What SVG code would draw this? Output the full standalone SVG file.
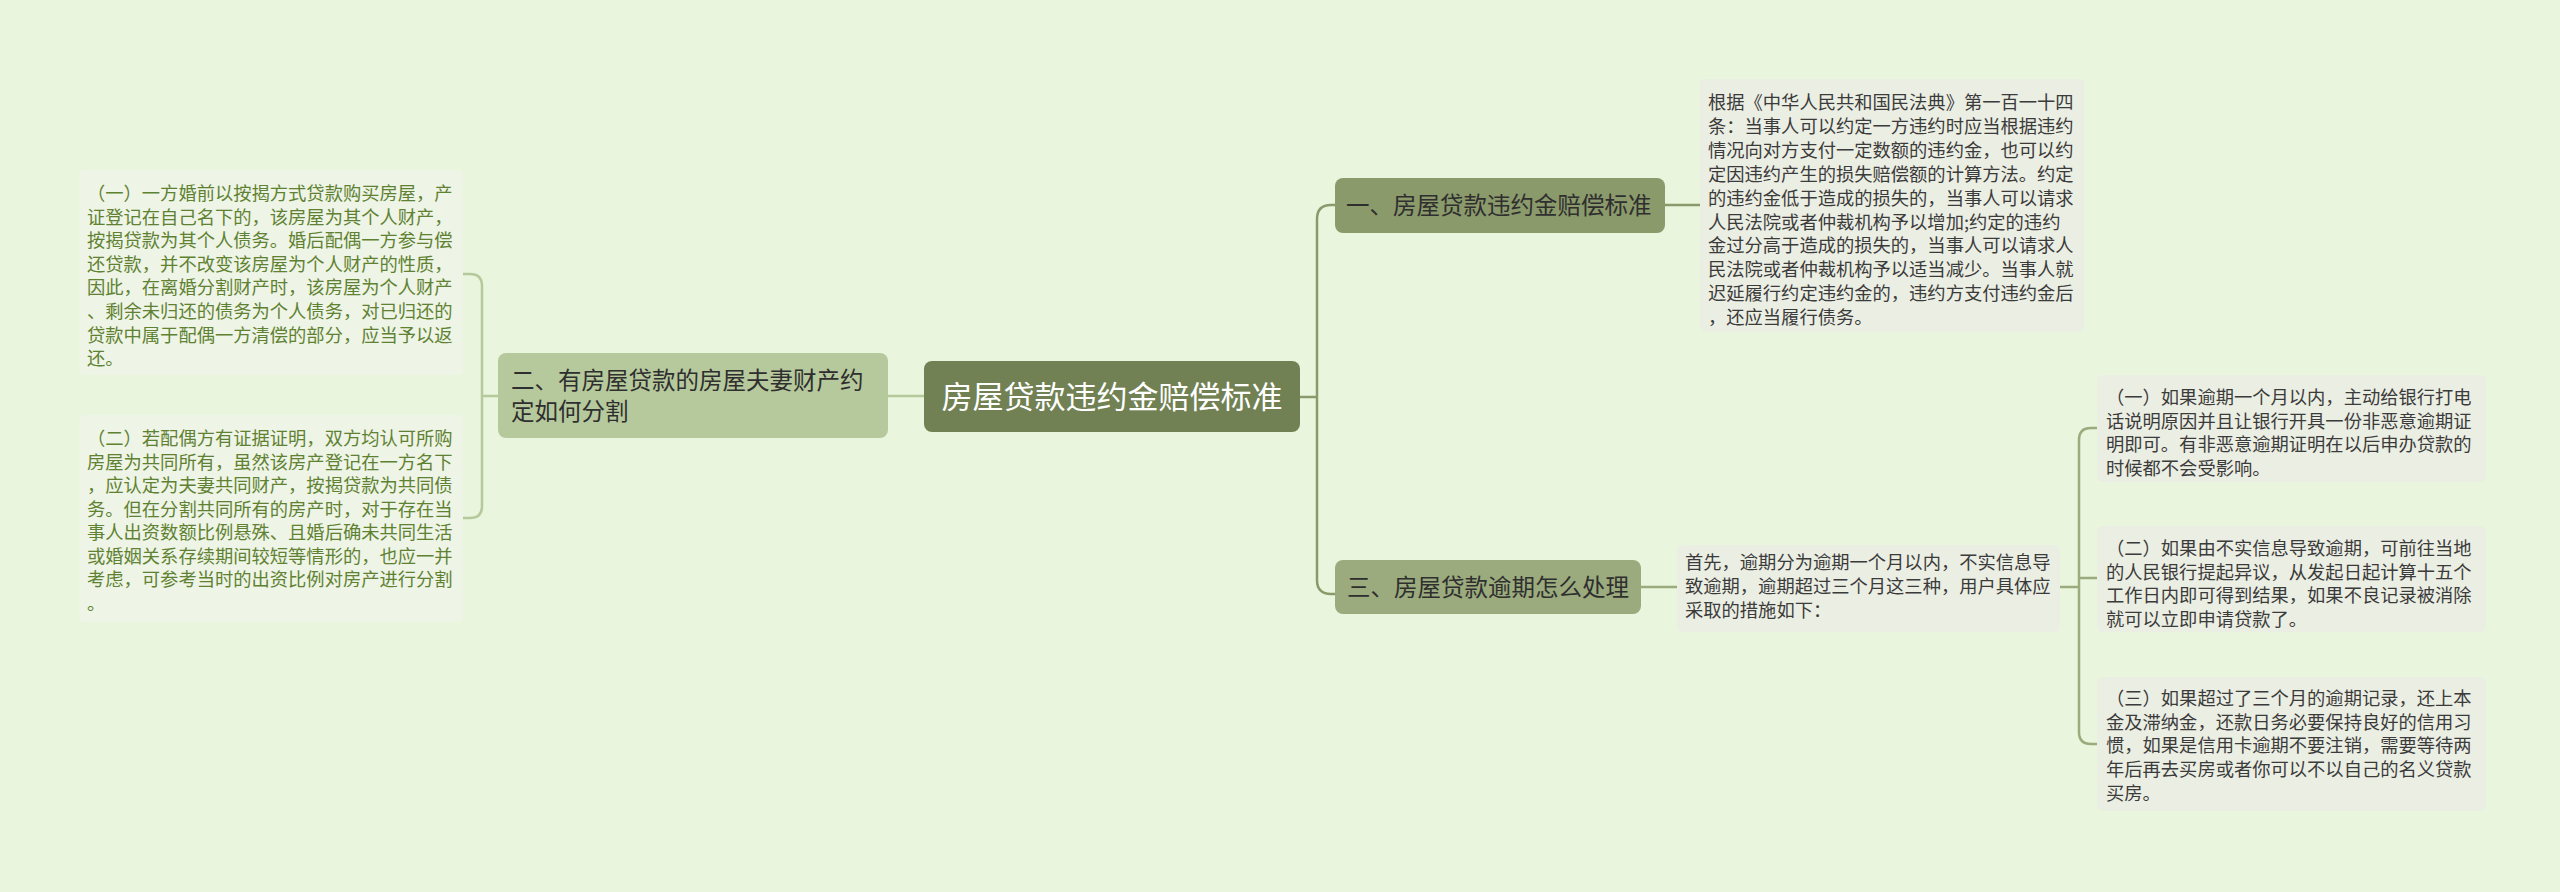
<svg xmlns="http://www.w3.org/2000/svg" width="2560" height="892" viewBox="0 0 2560 892">
<style>
.t{font-family:"Noto Sans CJK SC","Noto Sans",sans-serif;}
.body{font-size:18.3px;}
.lt{fill:#5f8232;}
.rt{fill:#3b3b3b;}
.lbox{fill:#eef4e6;}
.rbox{fill:#ebeee3;}
.mid{font-size:23.5px;fill:#2f2f2f;}
.c{fill:none;stroke-width:2.5;stroke-linecap:round;stroke-linejoin:round;}
</style>
<rect x="0" y="0" width="2560" height="892" fill="#e9f5dc"/>
<g id="connectors">
<path class="c" stroke="#b6c99c" d="M924,396 H888 M498,396 H482 M463,274 H470 Q482,274 482,286 V506 Q482,518 470,518 H463"/>
<path class="c" stroke="#8b9a6b" d="M1300,397 H1317 M1335,205 H1331 Q1317,205 1317,219 V580 Q1317,594 1331,594 H1335 M1665,205 H1700"/>
<path class="c" stroke="#9bab7d" d="M1641,587 H1677 M2060,587 H2079 M2097,428 H2091 Q2079,428 2079,440 V732 Q2079,744 2091,744 H2097 M2079,578 H2097"/>
</g>
<g id="center">
<rect x="924" y="361" width="376" height="71" rx="8" fill="#718153"/>
<text class="t" x="1112" y="408" font-size="31" fill="#ffffff" text-anchor="middle">房屋贷款违约金赔偿标准</text>
</g>
<g id="node-2">
<rect x="498" y="353" width="390" height="85" rx="8" fill="#b6c99c"/>
<text class="t mid" x="511" y="389">二、有房屋贷款的房屋夫妻财产约</text>
<text class="t mid" x="511" y="420">定如何分割</text>
</g>
<g id="node-1">
<rect x="1335" y="178" width="330" height="55" rx="8" fill="#8b9a6b"/>
<text class="t mid" x="1346" y="214">一、房屋贷款违约金赔偿标准</text>
</g>
<g id="node-3">
<rect x="1335" y="560" width="306" height="54" rx="8" fill="#9bab7d"/>
<text class="t mid" x="1347" y="596">三、房屋贷款逾期怎么处理</text>
</g>
<g id="left-1">
<rect class="lbox" x="79" y="170" width="384" height="205" rx="6"/>
<text class="t body lt" x="87">
<tspan x="87" y="200">（一）一方婚前以按揭方式贷款购买房屋，产</tspan>
<tspan x="87" y="223.6">证登记在自己名下的，该房屋为其个人财产，</tspan>
<tspan x="87" y="247.2">按揭贷款为其个人债务。婚后配偶一方参与偿</tspan>
<tspan x="87" y="270.8">还贷款，并不改变该房屋为个人财产的性质，</tspan>
<tspan x="87" y="294.4">因此，在离婚分割财产时，该房屋为个人财产</tspan>
<tspan x="87" y="318">、剩余未归还的债务为个人债务，对已归还的</tspan>
<tspan x="87" y="341.6">贷款中属于配偶一方清偿的部分，应当予以返</tspan>
<tspan x="87" y="365.2">还。</tspan>
</text>
</g>
<g id="left-2">
<rect class="lbox" x="79" y="415" width="384" height="207" rx="6"/>
<text class="t body lt" x="87">
<tspan x="87" y="445">（二）若配偶方有证据证明，双方均认可所购</tspan>
<tspan x="87" y="468.5">房屋为共同所有，虽然该房产登记在一方名下</tspan>
<tspan x="87" y="492">，应认定为夫妻共同财产，按揭贷款为共同债</tspan>
<tspan x="87" y="515.5">务。但在分割共同所有的房产时，对于存在当</tspan>
<tspan x="87" y="539">事人出资数额比例悬殊、且婚后确未共同生活</tspan>
<tspan x="87" y="562.5">或婚姻关系存续期间较短等情形的，也应一并</tspan>
<tspan x="87" y="586">考虑，可参考当时的出资比例对房产进行分割</tspan>
<tspan x="87" y="609.5">。</tspan>
</text>
</g>
<g id="right-1">
<rect class="rbox" x="1700" y="79" width="384" height="253" rx="6"/>
<text class="t body rt" x="1708">
<tspan x="1708" y="109">根据《中华人民共和国民法典》第一百一十四</tspan>
<tspan x="1708" y="132.9">条：当事人可以约定一方违约时应当根据违约</tspan>
<tspan x="1708" y="156.8">情况向对方支付一定数额的违约金，也可以约</tspan>
<tspan x="1708" y="180.7">定因违约产生的损失赔偿额的计算方法。约定</tspan>
<tspan x="1708" y="204.6">的违约金低于造成的损失的，当事人可以请求</tspan>
<tspan x="1708" y="228.5">人民法院或者仲裁机构予以增加;约定的违约</tspan>
<tspan x="1708" y="252.4">金过分高于造成的损失的，当事人可以请求人</tspan>
<tspan x="1708" y="276.3">民法院或者仲裁机构予以适当减少。当事人就</tspan>
<tspan x="1708" y="300.2">迟延履行约定违约金的，违约方支付违约金后</tspan>
<tspan x="1708" y="324.1">，还应当履行债务。</tspan>
</text>
</g>
<g id="right-3">
<rect class="rbox" x="1677" y="545" width="383" height="87" rx="6"/>
<text class="t body rt" x="1685">
<tspan x="1685" y="569">首先，逾期分为逾期一个月以内，不实信息导</tspan>
<tspan x="1685" y="593">致逾期，逾期超过三个月这三种，用户具体应</tspan>
<tspan x="1685" y="617">采取的措施如下：</tspan>
</text>
</g>
<g id="right-3a">
<rect class="rbox" x="2097" y="375" width="389" height="107" rx="6"/>
<text class="t body rt" x="2106">
<tspan x="2106" y="404">（一）如果逾期一个月以内，主动给银行打电</tspan>
<tspan x="2106" y="427.5">话说明原因并且让银行开具一份非恶意逾期证</tspan>
<tspan x="2106" y="451">明即可。有非恶意逾期证明在以后申办贷款的</tspan>
<tspan x="2106" y="474.5">时候都不会受影响。</tspan>
</text>
</g>
<g id="right-3b">
<rect class="rbox" x="2097" y="526" width="389" height="106" rx="6"/>
<text class="t body rt" x="2106">
<tspan x="2106" y="555">（二）如果由不实信息导致逾期，可前往当地</tspan>
<tspan x="2106" y="578.5">的人民银行提起异议，从发起日起计算十五个</tspan>
<tspan x="2106" y="602">工作日内即可得到结果，如果不良记录被消除</tspan>
<tspan x="2106" y="625.5">就可以立即申请贷款了。</tspan>
</text>
</g>
<g id="right-3c">
<rect class="rbox" x="2097" y="677" width="389" height="134" rx="6"/>
<text class="t body rt" x="2106">
<tspan x="2106" y="705">（三）如果超过了三个月的逾期记录，还上本</tspan>
<tspan x="2106" y="728.7">金及滞纳金，还款日务必要保持良好的信用习</tspan>
<tspan x="2106" y="752.4">惯，如果是信用卡逾期不要注销，需要等待两</tspan>
<tspan x="2106" y="776.1">年后再去买房或者你可以不以自己的名义贷款</tspan>
<tspan x="2106" y="799.8">买房。</tspan>
</text>
</g>
</svg>
